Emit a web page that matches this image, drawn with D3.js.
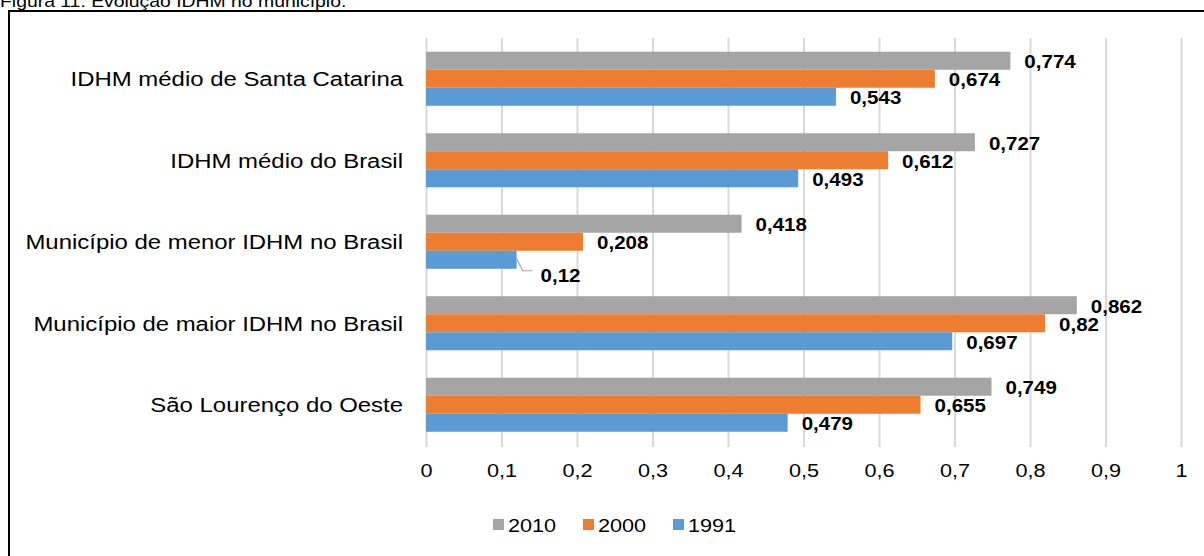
<!DOCTYPE html>
<html>
<head>
<meta charset="utf-8">
<script src="https://cdn.jsdelivr.net/npm/d3@7"></script>
<style>
  html, body { margin: 0; padding: 0; background: #fff; }
  svg { display: block; font-family: "Liberation Sans", Arial, sans-serif; }
</style>
</head>
<body>
<svg id="chart" width="1204" height="556"></svg>
<script>
// Categories, top to bottom
const categories = [
  "IDHM médio de Santa Catarina",
  "IDHM médio do Brasil",
  "Município de menor IDHM no Brasil",
  "Município de maior IDHM no Brasil",
  "São Lourenço do Oeste"
];
// Series (years) and their values per category
const seriesNames = ["2010", "2000", "1991"];
const values2010 = [0.774, 0.727, 0.418, 0.862, 0.749];
const values2000 = [0.674, 0.612, 0.208, 0.82, 0.655];
const values1991 = [0.543, 0.493, 0.12, 0.697, 0.479];
const tickValues = [0, 0.1, 0.2, 0.3, 0.4, 0.5, 0.6, 0.7, 0.8, 0.9, 1];
const caption = "Figura 11: Evolução IDHM no município.";

const colors = { "2010": "#A5A5A5", "2000": "#ED7D31", "1991": "#5B9BD5" };
const seriesValues = { "2010": values2010, "2000": values2000, "1991": values1991 };

const SX = 1.14; // glyphs are set slightly wide
const svg = d3.select("#chart");
const fmt = v => String(v).replace(".", ",");
const place = (sel, px, py) => sel.attr("x", 0).attr("y", 0)
  .attr("transform", (d, i) => `translate(${typeof px === "function" ? px(d, i) : px},${typeof py === "function" ? py(d, i) : py}) scale(${SX},1)`);

// Caption (partially above the top edge) and frame
place(svg.append("text"), 0, 7)
  .attr("font-size", 17).attr("fill", "#000").text(caption);
svg.append("rect").attr("x", 9).attr("y", 11).attr("width", 1300).attr("height", 700)
  .attr("fill", "none").attr("stroke", "#000").attr("stroke-width", 2);

const x = d3.scaleLinear().domain([0, 1]).range([426, 1181]);
const y = d3.scaleBand().domain(categories).range([38, 445.5])
  .paddingInner(0.337).paddingOuter(0.1685);
const ySub = d3.scaleBand().domain(seriesNames).range([0, y.bandwidth()]);

// Gridlines + tick labels
const axis = d3.axisBottom(x).tickValues(tickValues)
  .tickSize(38 - 447).tickFormat(fmt);
const gAxis = svg.append("g").attr("transform", "translate(0,447)").call(axis);
gAxis.select(".domain").remove();
gAxis.selectAll(".tick line").attr("stroke", "#D9D9D9").attr("stroke-width", 2);
place(gAxis.selectAll(".tick text"), 0, 23)
  .attr("font-size", 19).attr("fill", "#000")
  .attr("font-family", "Liberation Sans, Arial, sans-serif").attr("dy", "0.35em");

// Category labels
place(svg.append("g").selectAll("text").data(categories).join("text"),
    403, d => y(d) + y.bandwidth() / 2)
  .attr("dy", "0.35em").attr("text-anchor", "end")
  .attr("font-size", 21).attr("fill", "#000").text(d => d);

// Bars
const rows = [];
categories.forEach((c, i) => seriesNames.forEach(s => rows.push({ c, s, v: seriesValues[s][i] })));

svg.append("g").selectAll("rect").data(rows).join("rect")
  .attr("x", x(0)).attr("y", d => y(d.c) + ySub(d.s))
  .attr("width", d => x(d.v) - x(0)).attr("height", ySub.bandwidth())
  .attr("fill", d => colors[d.s]);

// Value labels; the smallest one is pushed out with a leader line
const leaderValue = 0.12;
const gLab = svg.append("g");
rows.forEach(d => {
  const cy = y(d.c) + ySub(d.s) + ySub.bandwidth() / 2;
  let lx = x(d.v) + 14, ly = cy + 1;
  if (d.v === leaderValue) {
    lx = x(d.v) + 24; ly = cy + 16;
    gLab.append("polyline")
      .attr("points", [[x(d.v), cy - 1], [x(d.v) + 6, cy + 11], [x(d.v) + 16, cy + 11]].map(p => p.join(",")).join(" "))
      .attr("fill", "none").attr("stroke", "#A6A6A6").attr("stroke-width", 1.2);
  }
  place(gLab.append("text"), lx, ly).attr("dy", "0.35em")
    .attr("font-size", 18).attr("font-weight", "bold").attr("fill", "#000")
    .text(fmt(d.v));
});

// Legend
const legendX = [493, 583, 673];
const gLeg = svg.append("g");
seriesNames.forEach((s, i) => {
  gLeg.append("rect").attr("x", legendX[i]).attr("y", 519).attr("width", 11).attr("height", 11)
    .attr("fill", colors[s]);
  place(gLeg.append("text"), legendX[i] + 15, 525).attr("dy", "0.35em")
    .attr("font-size", 19).attr("fill", "#000").text(s);
});
</script>
</body>
</html>
